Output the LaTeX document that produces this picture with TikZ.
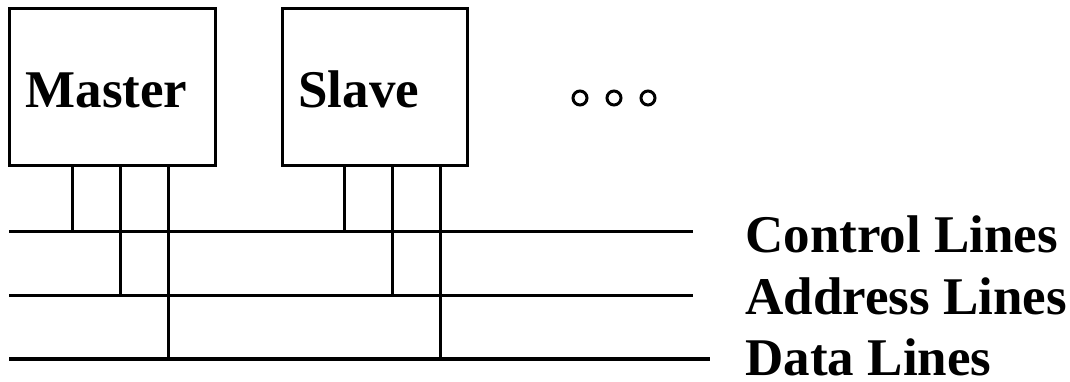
\documentclass[tikz,border=0pt]{standalone}
\usepackage{fontspec}
\setmainfont{Liberation Serif}
\begin{document}
\begin{tikzpicture}[x=1pt, y=-1pt, line width=3pt,
	unitbox/.style={draw, line width=3pt, minimum width=206pt, minimum height=157pt, inner sep=0pt},
	boxtext/.style={anchor=base west, inner sep=0pt, font=\fontsize{53}{58}\selectfont\bfseries},
	buslabel/.style={anchor=base west, inner sep=0pt, font=\fontsize{53}{58}\selectfont\bfseries}]
	\useasboundingbox (0,0) rectangle (1070,382);
	% units on the bus
	\node[unitbox] (master) at (112,87.5) {};
	\node[unitbox, minimum width=185pt] (slave) at (374.5,87.5) {};
	\node[boxtext] (mastertxt) at (24,108) {Master};
	\node[boxtext] (slavetxt) at (297,108) {Slave};
	\foreach \x in {580,614,648} {
		\draw[line width=3pt] (\x,98) circle (7);
	}
	% bus lines
	\coordinate (ctl-w) at (9,231);   \coordinate (ctl-e) at (693,231);
	\coordinate (adr-w) at (9,295);   \coordinate (adr-e) at (693,295);
	\coordinate (dat-w) at (9,359);   \coordinate (dat-e) at (710,359);
	\draw (ctl-w) -- (ctl-e);
	\draw (adr-w) -- (adr-e);
	\draw[line width=3.4pt] (dat-w) -- (dat-e);
	\node[buslabel] (ctltxt) at (744,252) {Control Lines};
	\node[buslabel] (adrtxt) at (744,314) {Address Lines};
	\node[buslabel] (dattxt) at (744,375) {Data Lines};
	% taps
	\foreach \x / \bus in {72/ctl, 120/adr, 168/dat} {
		\draw (master.south -| \x,0) -- (\x,0 |- \bus-w);
	}
	\foreach \x / \bus in {344/ctl, 392/adr, 440/dat} {
		\draw (slave.south -| \x,0) -- (\x,0 |- \bus-w);
	}
\end{tikzpicture}
\end{document}
